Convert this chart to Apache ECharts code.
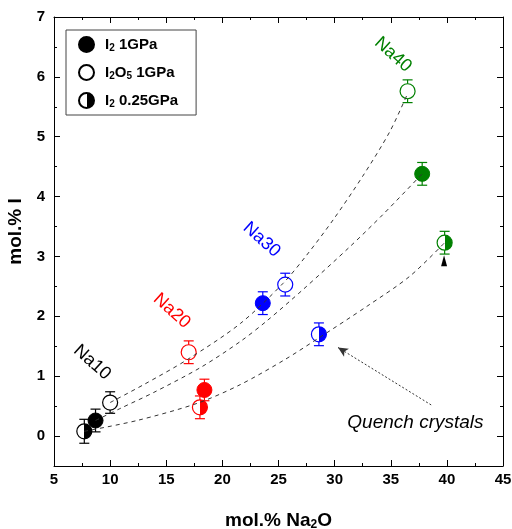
<!DOCTYPE html>
<html>
<head>
<meta charset="utf-8">
<script src="https://cdn.jsdelivr.net/npm/echarts@6/dist/echarts.min.js"></script>
<style>
  html, body { margin: 0; padding: 0; background: #fff; }
  #chart { width: 512px; height: 529px; }
</style>
</head>
<body>
<div id="chart"></div>
<script>
// groups: Na10, Na20, Na30, Na40
const groupColors = ['#000000', '#ff0000', '#0000ff', '#008000']

// I2 1GPa (filled)
const filledX = [8.7, 18.4, 23.6, 37.8]
const filledY = [0.26, 0.77, 2.22, 4.38]
const filledErr = [0.19, 0.18, 0.19, 0.19]

// I2O5 1GPa (open)
const openX = [10.0, 17.0, 25.6, 36.5]
const openY = [0.56, 1.40, 2.53, 5.76]
const openErr = [0.18, 0.19, 0.19, 0.19]

// I2 0.25GPa (half filled)
const halfX = [7.7, 18.0, 28.6, 39.8]
const halfY = [0.08, 0.48, 1.70, 3.23]
const halfErr = [0.20, 0.19, 0.19, 0.19]

// dashed trend curves
const curveA = [[10.0, 0.56], [13.0, 0.86], [16.9, 1.28], [21.6, 1.88], [25.4, 2.55],
  [27.5, 3.02], [29.9, 3.62], [32.5, 4.34], [34.9, 5.08], [36.5, 5.72]]
const curveB = [[8.7, 0.26], [11.0, 0.47], [13.9, 0.73], [18.1, 1.15], [21.6, 1.58],
  [24.0, 1.93], [27.2, 2.45], [31.4, 3.17], [34.3, 3.70], [37.8, 4.38]]
const curveC = [[7.7, 0.08], [12.4, 0.26], [17.8, 0.55], [21.6, 0.86], [25.5, 1.27],
  [28.6, 1.64], [32.9, 2.17], [36.7, 2.67], [39.8, 3.23]]

const groupLabels = ['Na10', 'Na20', 'Na30', 'Na40']
const groupLabelPos = [[8.4, 1.23], [15.5, 2.09], [23.5, 3.28], [35.2, 6.37]]

const noteText = 'Quench crystals'
const notePos = [37.2, 0.22]
const noteArrow = [[38.6, 0.52], [30.3, 1.48]]
const smallArrowPos = [39.75, 2.93]

const yTicks = [0, 1, 2, 3, 4, 5, 6, 7]
const yMinorTicks = [0.5, 1.5, 2.5, 3.5, 4.5, 5.5, 6.5]

const seriesNames = ['I2 1GPa', 'I2O5 1GPa', 'I2 0.25GPa']
const legendRich = {
  'I2 1GPa': '{b|I}{s|2}{b| 1GPa}',
  'I2O5 1GPa': '{b|I}{s|2}{b|O}{s|5}{b| 1GPa}',
  'I2 0.25GPa': '{b|I}{s|2}{b| 0.25GPa}',
}

const font = 'Arial, "Liberation Sans", sans-serif'

function halfFill(c) {
  return new echarts.graphic.LinearGradient(0, 0, 1, 0, [
    { offset: 0, color: '#ffffff' },
    { offset: 0.5, color: '#ffffff' },
    { offset: 0.5, color: c },
    { offset: 1, color: c },
  ])
}

function errData(xs, ys, es) {
  return xs.map((x, i) => [x, ys[i], es[i], i])
}

function renderErr(params, api) {
  const x = api.value(0)
  const y = api.value(1)
  const e = api.value(2)
  const color = groupColors[api.value(3)]
  const top = api.coord([x, y + e])
  const bot = api.coord([x, y - e])
  const w = 5
  const style = { stroke: color, lineWidth: 1.2 }
  return {
    type: 'group',
    children: [
      { type: 'line', shape: { x1: top[0], y1: top[1], x2: bot[0], y2: bot[1] }, style },
      { type: 'line', shape: { x1: top[0] - w, y1: top[1], x2: top[0] + w, y2: top[1] }, style },
      { type: 'line', shape: { x1: bot[0] - w, y1: bot[1], x2: bot[0] + w, y2: bot[1] }, style },
    ],
  }
}

const chart = echarts.init(document.getElementById('chart'))

const frameLine = { show: true, onZero: false, lineStyle: { color: '#000', width: 1 } }

const option = {
  animation: false,
  textStyle: { fontFamily: font },
  grid: { left: 54, right: 9, top: 17, bottom: 63, containLabel: false, outerBoundsMode: 'none' },
  legend: {
    orient: 'vertical',
    left: 66,
    top: 30,
    padding: [6, 18, 6, 12],
    borderColor: '#444',
    borderWidth: 1,
    itemWidth: 15,
    itemHeight: 15,
    itemGap: 11,
    data: seriesNames,
    formatter: (name) => legendRich[name],
    textStyle: {
      padding: [0, 0, 0, 6],
      rich: {
        b: { fontFamily: font, fontWeight: 'bold', fontSize: 15, color: '#000' },
        s: { fontFamily: font, fontWeight: 'bold', fontSize: 10, color: '#000', padding: [7, 0, 0, 0] },
      },
    },
  },
  xAxis: [
    {
      type: 'value',
      min: 5,
      max: 45,
      interval: 5,
      position: 'bottom',
      axisLine: frameLine,
      splitLine: { show: false },
      axisTick: { inside: true, length: 6, lineStyle: { color: '#000' } },
      minorTick: { show: true, splitNumber: 2, length: 3, lineStyle: { color: '#000' } },
      axisLabel: { color: '#000', fontWeight: 'bold', fontSize: 15, margin: 6, fontFamily: font },
      name: 'mol.% Na{s|2}O',
      nameLocation: 'middle',
      nameGap: 44,
      nameTextStyle: {
        rich: {
          s: { fontFamily: font, fontWeight: 'bold', fontSize: 12, color: '#000', padding: [9, 0, 0, 0] },
        },
        fontFamily: font,
        fontWeight: 'bold',
        fontSize: 19,
        color: '#000',
      },
    },
    {
      type: 'value',
      min: 5,
      max: 45,
      interval: 5,
      position: 'top',
      axisLine: frameLine,
      splitLine: { show: false },
      axisTick: { inside: true, length: 6, lineStyle: { color: '#000' } },
      minorTick: { show: true, splitNumber: 2, length: 3, lineStyle: { color: '#000' } },
      axisLabel: { show: false },
    },
  ],
  yAxis: [
    {
      type: 'value',
      min: -0.5,
      max: 7,
      position: 'left',
      axisLine: frameLine,
      splitLine: { show: false },
      axisTick: { inside: true, length: 6, customValues: yTicks, lineStyle: { color: '#000' } },
      axisLabel: { customValues: yTicks, color: '#000', fontWeight: 'bold', fontSize: 15, margin: 9, fontFamily: font },
      name: 'mol.% I',
      nameLocation: 'middle',
      nameGap: 28,
      nameTextStyle: { fontFamily: font, fontWeight: 'bold', fontSize: 19, color: '#000', padding: [0, 0, 0, 20] },
    },
    {
      type: 'value',
      min: -0.5,
      max: 7,
      position: 'left',
      axisLine: { show: false, onZero: false },
      splitLine: { show: false },
      axisTick: { inside: true, length: 3, customValues: yMinorTicks, lineStyle: { color: '#000' } },
      axisLabel: { show: false },
    },
    {
      type: 'value',
      min: -0.5,
      max: 7,
      position: 'right',
      axisLine: frameLine,
      splitLine: { show: false },
      axisTick: { inside: true, length: 6, customValues: yTicks, lineStyle: { color: '#000' } },
      axisLabel: { show: false },
    },
    {
      type: 'value',
      min: -0.5,
      max: 7,
      position: 'right',
      axisLine: { show: false, onZero: false },
      splitLine: { show: false },
      axisTick: { inside: true, length: 3, customValues: yMinorTicks, lineStyle: { color: '#000' } },
      axisLabel: { show: false },
    },
  ],
  series: [
    {
      type: 'custom',
      name: 'err',
      renderItem: renderErr,
      z: 1,
      data: errData(filledX, filledY, filledErr)
        .concat(errData(openX, openY, openErr))
        .concat(errData(halfX, halfY, halfErr)),
    },
    {
      name: seriesNames[0],
      type: 'scatter',
      symbol: 'circle',
      symbolSize: 15,
      z: 2,
      itemStyle: { color: '#000', borderColor: '#000', borderWidth: 1, opacity: 1 },
      data: filledX.map((x, i) => ({
        value: [x, filledY[i]],
        itemStyle: { color: groupColors[i], borderColor: groupColors[i] },
      })),
    },
    {
      name: seriesNames[1],
      type: 'scatter',
      symbol: 'circle',
      symbolSize: 15,
      z: 2,
      itemStyle: { color: '#fff', borderColor: '#000', borderWidth: 1.2, opacity: 1 },
      data: openX.map((x, i) => ({
        value: [x, openY[i]],
        itemStyle: { color: '#fff', borderColor: groupColors[i] },
      })),
    },
    {
      name: seriesNames[2],
      type: 'scatter',
      symbol: 'circle',
      symbolSize: 15,
      z: 2,
      itemStyle: { color: halfFill('#000'), borderColor: '#000', borderWidth: 1.2, opacity: 1 },
      data: halfX.map((x, i) => ({
        value: [x, halfY[i]],
        itemStyle: { color: halfFill(groupColors[i]), borderColor: groupColors[i] },
      })),
    },
    ...[curveA, curveB, curveC].map((c) => ({
      type: 'line',
      data: c,
      smooth: 0.3,
      showSymbol: false,
      symbol: 'none',
      z: 3,
      lineStyle: { color: '#333', width: 1, type: [4, 4] },
    })),
    {
      type: 'scatter',
      name: 'labels',
      symbolSize: 0,
      z: 4,
      itemStyle: { opacity: 1 },
      data: groupLabels.map((t, i) => ({
        value: groupLabelPos[i],
        label: {
          show: true,
          formatter: t,
          position: 'inside',
          rotate: -42,
          color: groupColors[i],
          opacity: 1,
          fontSize: 18,
          fontFamily: font,
        },
      })),
    },
    {
      type: 'scatter',
      name: 'note',
      symbolSize: 0,
      z: 4,
      itemStyle: { opacity: 1 },
      data: [{
        value: notePos,
        label: {
          show: true,
          formatter: noteText,
          position: 'inside',
          color: '#000',
          opacity: 1,
          fontSize: 19,
          fontStyle: 'italic',
          fontFamily: font,
        },
      }],
      markLine: {
        silent: true,
        symbol: ['none', 'arrow'],
        symbolSize: [7, 10],
        label: { show: false },
        lineStyle: { color: '#333', width: 1, type: [2, 2] },
        data: [[{ coord: noteArrow[0] }, { coord: noteArrow[1] }]],
      },
    },
    {
      type: 'scatter',
      name: 'arrowhead',
      symbol: 'triangle',
      symbolSize: [6, 11],
      z: 4,
      itemStyle: { color: '#000', opacity: 1 },
      data: [smallArrowPos],
    },
  ],
}

chart.setOption(option)
</script>
</body>
</html>
